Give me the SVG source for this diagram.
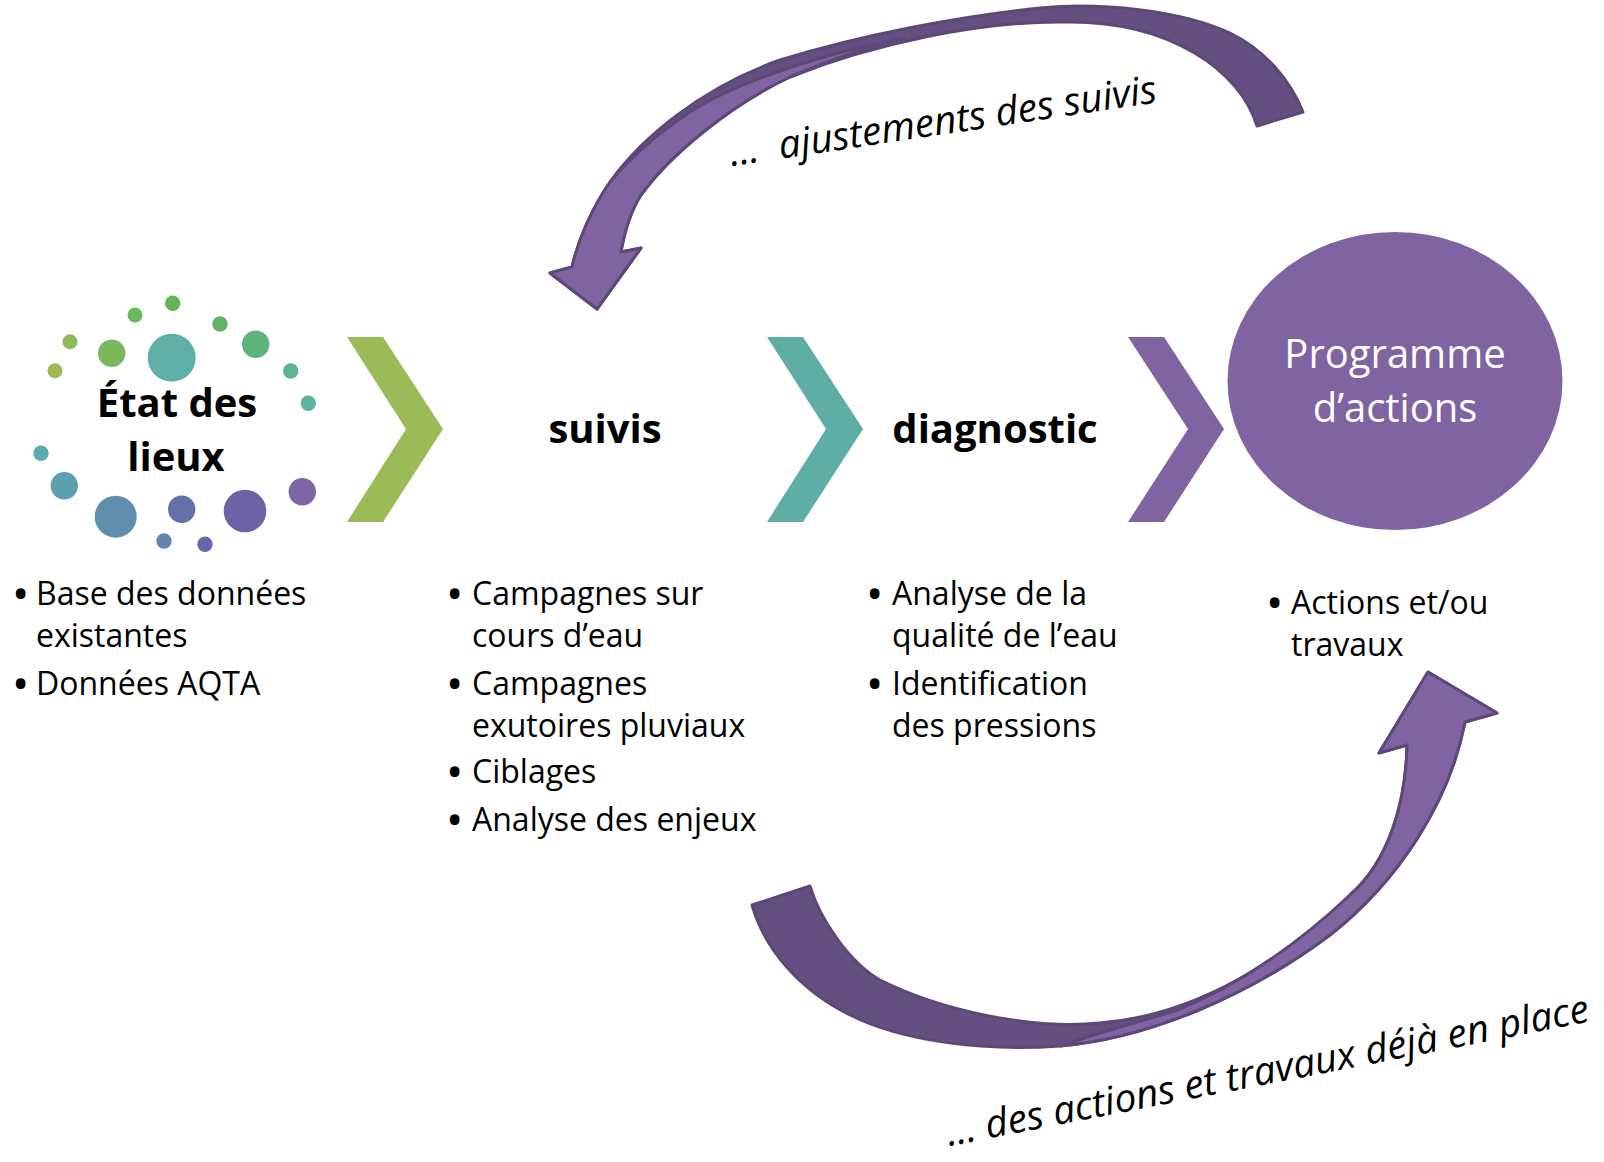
<svg xmlns="http://www.w3.org/2000/svg" width="1604" height="1162" viewBox="0 0 1604 1162">
<style>
.t{font-family:"Open Sans","Noto Sans","Liberation Sans",sans-serif;fill:#000}
.b{font-weight:700;font-size:40px;text-anchor:middle}
.l{font-size:32px}
.u{font-size:46px}
.w{fill:#fff;font-size:40px;text-anchor:middle}
.i{font-style:italic;font-size:39px}
.dark{fill:#654F80;stroke:#5D4878;stroke-width:3;stroke-linejoin:round}
.light{fill:#8064A2;stroke:#5D4878;stroke-width:3;stroke-linejoin:round}
</style>
<rect width="1604" height="1162" fill="#fff"/>
<g id="etat-des-lieux">
<circle cx="172.7" cy="303.3" r="7.7" fill="#62B55B"/>
<circle cx="135" cy="315" r="7.5" fill="#6AB85E"/>
<circle cx="70" cy="341.7" r="7.5" fill="#8DBB5A"/>
<circle cx="55" cy="370.7" r="7.5" fill="#9CBB59"/>
<circle cx="111.7" cy="353.3" r="13.7" fill="#7AB85B"/>
<circle cx="171.7" cy="357.7" r="24" fill="#5FAFA6"/>
<circle cx="220" cy="324" r="7.7" fill="#63B566"/>
<circle cx="255.7" cy="344.3" r="13.7" fill="#5DB479"/>
<circle cx="290.7" cy="371" r="7.7" fill="#5EB48E"/>
<circle cx="308.3" cy="403.3" r="7.7" fill="#5FB39E"/>
<circle cx="41" cy="453.3" r="7.7" fill="#5DACB0"/>
<circle cx="64.3" cy="485.7" r="13.7" fill="#5E9FB0"/>
<circle cx="115.7" cy="516.7" r="21" fill="#5F8DAC"/>
<circle cx="164" cy="541" r="7.7" fill="#6483AF"/>
<circle cx="181.7" cy="509.3" r="13.7" fill="#6172A9"/>
<circle cx="205" cy="544.3" r="7.7" fill="#6667A8"/>
<circle cx="245" cy="511" r="21.3" fill="#6A64A6"/>
<circle cx="302.3" cy="491.7" r="13.7" fill="#7D65A3"/>
<text class="t b" x="177" y="417">État des</text>
<text class="t b" x="176" y="471">lieux</text>
<text class="t u" x="12" y="610">•</text>
<text class="t l" x="36" y="605">Base des données</text>
<text class="t l" x="36" y="647">existantes</text>
<text class="t u" x="12" y="700">•</text>
<text class="t l" x="36" y="695">Données AQTA</text>
</g>
<g id="suivis">
<path d="M347,337 L383,337 L443,429 L383,522 L347,522 L406,429 Z" fill="#9BBB59"/>
<text class="t b" x="605" y="443">suivis</text>
<text class="t u" x="446" y="610">•</text>
<text class="t l" x="472" y="605">Campagnes sur</text>
<text class="t l" x="472" y="647">cours d’eau</text>
<text class="t u" x="446" y="700">•</text>
<text class="t l" x="472" y="695">Campagnes</text>
<text class="t l" x="472" y="737">exutoires pluviaux</text>
<text class="t u" x="446" y="788">•</text>
<text class="t l" x="472" y="783">Ciblages</text>
<text class="t u" x="446" y="836">•</text>
<text class="t l" x="472" y="831">Analyse des enjeux</text>
</g>
<g id="diagnostic">
<path d="M767,337 L803,337 L863,429 L803,522 L767,522 L826,429 Z" fill="#5FAEA6"/>
<text class="t b" x="995" y="443">diagnostic</text>
<text class="t u" x="866" y="610">•</text>
<text class="t l" x="892" y="605">Analyse de la</text>
<text class="t l" x="892" y="647">qualité de l’eau</text>
<text class="t u" x="866" y="700">•</text>
<text class="t l" x="892" y="695">Identification</text>
<text class="t l" x="892" y="737">des pressions</text>
</g>
<g id="programme">
<path d="M1128,337 L1164,337 L1224,429 L1164,522 L1128,522 L1188,429 Z" fill="#8064A2"/>
<ellipse cx="1395" cy="381" rx="167.5" ry="149" fill="#8064A2"/>
<text class="t w" x="1395" y="368">Programme</text>
<text class="t w" x="1395" y="422">d’actions</text>
<text class="t u" x="1266" y="619">•</text>
<text class="t l" x="1291" y="614">Actions et/ou</text>
<text class="t l" x="1291" y="656">travaux</text>
</g>
<g id="connectors">
<g id="arrow-ajustements">
<path class="dark" d="M1303,112 C1290,80 1265,50 1230,33 C1180,10 1100,2 1040,8 C960,16 860,35 780,60 C700,88 640,140 610,182 C592,208 578,240 572,267 L550,273 L597,309 L641,248 L621,252 C624,235 630,212 641,195 C670,155 730,105 790,77 C870,45 980,20 1070,22 C1170,22 1240,70 1257,126 Z"/>
<path class="light" d="M572,267 L550,273 L597,309 L641,248 L621,252 C624,235 630,212 641,195 C670,155 730,105 790,77 C830,60 870,46 905,38 C830,52 740,80 690,112 C660,132 630,158 610,182 C592,208 578,240 572,267 Z"/>
<text class="t i" x="731.5" y="166" transform="rotate(-8.5 731.5 166)" xml:space="preserve">...  ajustements des suivis</text>
</g>
<g id="arrow-actions">
<path class="dark" d="M752,905 C765,950 800,990 850,1015 C900,1040 980,1052 1060,1046 C1150,1038 1250,995 1330,935 C1400,880 1450,800 1465,722 L1497,713 L1428,672 L1379,753 L1407,745 C1406,800 1390,860 1350,895 C1290,955 1200,1015 1100,1023 C1030,1030 940,1010 880,980 C850,963 820,920 810,886 Z"/>
<path class="light" d="M1465,722 L1497,713 L1428,672 L1379,753 L1407,745 C1406,800 1390,860 1350,895 C1300,942 1240,985 1175,1011 C1130,1024 1090,1036 1060,1046 C1150,1038 1250,995 1330,935 C1400,880 1450,800 1465,722 Z"/>
<text class="t i" x="949" y="1146" transform="rotate(-11 949 1146)">... des actions et travaux déjà en place</text>
</g>
</g>
</svg>
